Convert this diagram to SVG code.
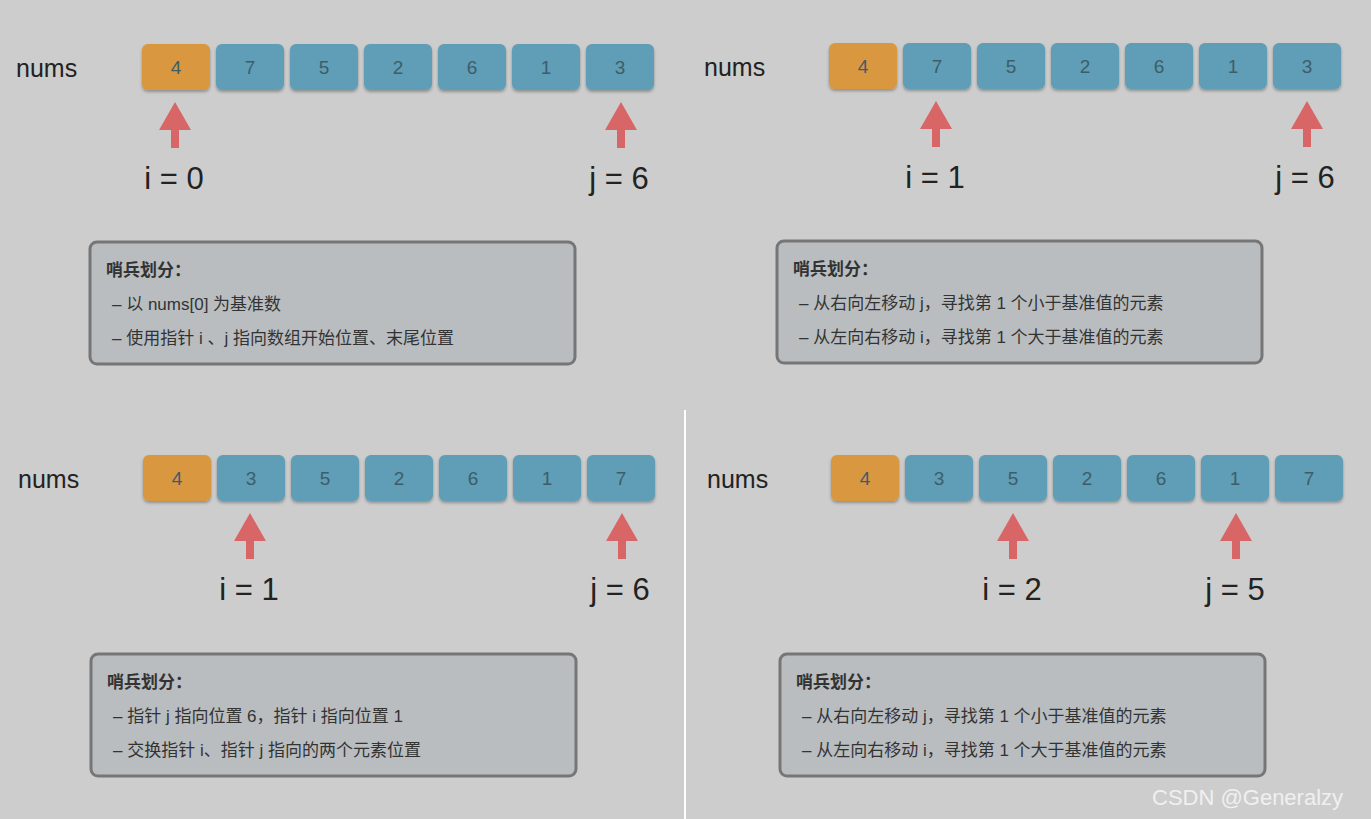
<svg xmlns="http://www.w3.org/2000/svg" width="1371" height="819" viewBox="0 0 1371 819">
<defs>
<filter id="sh" x="-10%" y="-10%" width="120%" height="130%"><feDropShadow dx="0" dy="2" stdDeviation="1.5" flood-color="#000" flood-opacity="0.3"/></filter>
<g id="arrow"><polygon points="0,0 -16,28 -4,28 -4,46 4,46 4,28 16,28" fill="#d96666"/></g>
</defs>
<style>
text{font-family:"Liberation Sans","Noto Sans CJK SC",sans-serif}
.c{fill:#609db6;filter:url(#sh)}
.o{fill:#d9973f;filter:url(#sh)}
.v{font-size:19px;fill:#3d5d6b;text-anchor:middle}
.n{font-size:25px;fill:#222}
.l{font-size:31px;fill:#222;text-anchor:middle}
.b{fill:#b9bdc0;stroke:#767676;stroke-width:3}
.h{font-size:17px;font-weight:bold;fill:#333}
.t{font-size:17px;fill:#333}
</style>
<rect width="1371" height="819" fill="#cdcdcd"/>
<line x1="685" y1="410" x2="685" y2="819" stroke="#fff" stroke-width="2"/>

<g id="panel1">
<text class="n" x="16" y="77">nums</text>
<rect class="o" x="142" y="44" width="68" height="46" rx="6"/><text class="v" x="176" y="74">4</text>
<rect class="c" x="216" y="44" width="68" height="46" rx="6"/><text class="v" x="250" y="74">7</text>
<rect class="c" x="290" y="44" width="68" height="46" rx="6"/><text class="v" x="324" y="74">5</text>
<rect class="c" x="364" y="44" width="68" height="46" rx="6"/><text class="v" x="398" y="74">2</text>
<rect class="c" x="438" y="44" width="68" height="46" rx="6"/><text class="v" x="472" y="74">6</text>
<rect class="c" x="512" y="44" width="68" height="46" rx="6"/><text class="v" x="546" y="74">1</text>
<rect class="c" x="586" y="44" width="68" height="46" rx="6"/><text class="v" x="620" y="74">3</text>
<use href="#arrow" x="175" y="102"/><use href="#arrow" x="621" y="102"/>
<text class="l" x="174" y="189">i = 0</text><text class="l" x="619" y="189">j = 6</text>
<rect class="b" x="90" y="242" width="485" height="122" rx="7"/>
<text class="h" x="106" y="276">哨兵划分：</text>
<text class="t" x="112" y="310">– 以 nums[0] 为基准数</text>
<text class="t" x="112" y="344">– 使用指针 i 、j 指向数组开始位置、末尾位置</text>
</g>

<g id="panel2">
<text class="n" x="704" y="76">nums</text>
<rect class="o" x="829" y="43" width="68" height="46" rx="6"/><text class="v" x="863" y="73">4</text>
<rect class="c" x="903" y="43" width="68" height="46" rx="6"/><text class="v" x="937" y="73">7</text>
<rect class="c" x="977" y="43" width="68" height="46" rx="6"/><text class="v" x="1011" y="73">5</text>
<rect class="c" x="1051" y="43" width="68" height="46" rx="6"/><text class="v" x="1085" y="73">2</text>
<rect class="c" x="1125" y="43" width="68" height="46" rx="6"/><text class="v" x="1159" y="73">6</text>
<rect class="c" x="1199" y="43" width="68" height="46" rx="6"/><text class="v" x="1233" y="73">1</text>
<rect class="c" x="1273" y="43" width="68" height="46" rx="6"/><text class="v" x="1307" y="73">3</text>
<use href="#arrow" x="936" y="101"/><use href="#arrow" x="1307" y="101"/>
<text class="l" x="935" y="188">i = 1</text><text class="l" x="1305" y="188">j = 6</text>
<rect class="b" x="777" y="241" width="485" height="122" rx="7"/>
<text class="h" x="793" y="275">哨兵划分：</text>
<text class="t" x="799" y="309">– 从右向左移动 j，寻找第 1 个小于基准值的元素</text>
<text class="t" x="799" y="343">– 从左向右移动 i，寻找第 1 个大于基准值的元素</text>
</g>

<g id="panel3">
<text class="n" x="18" y="488">nums</text>
<rect class="o" x="143" y="455" width="68" height="46" rx="6"/><text class="v" x="177" y="485">4</text>
<rect class="c" x="217" y="455" width="68" height="46" rx="6"/><text class="v" x="251" y="485">3</text>
<rect class="c" x="291" y="455" width="68" height="46" rx="6"/><text class="v" x="325" y="485">5</text>
<rect class="c" x="365" y="455" width="68" height="46" rx="6"/><text class="v" x="399" y="485">2</text>
<rect class="c" x="439" y="455" width="68" height="46" rx="6"/><text class="v" x="473" y="485">6</text>
<rect class="c" x="513" y="455" width="68" height="46" rx="6"/><text class="v" x="547" y="485">1</text>
<rect class="c" x="587" y="455" width="68" height="46" rx="6"/><text class="v" x="621" y="485">7</text>
<use href="#arrow" x="250" y="513"/><use href="#arrow" x="622" y="513"/>
<text class="l" x="249" y="600">i = 1</text><text class="l" x="620" y="600">j = 6</text>
<rect class="b" x="91" y="654" width="485" height="122" rx="7"/>
<text class="h" x="107" y="688">哨兵划分：</text>
<text class="t" x="113" y="722">– 指针 j 指向位置 6，指针 i 指向位置 1</text>
<text class="t" x="113" y="756">– 交换指针 i、指针 j 指向的两个元素位置</text>
</g>

<g id="panel4">
<text class="n" x="707" y="488">nums</text>
<rect class="o" x="831" y="455" width="68" height="46" rx="6"/><text class="v" x="865" y="485">4</text>
<rect class="c" x="905" y="455" width="68" height="46" rx="6"/><text class="v" x="939" y="485">3</text>
<rect class="c" x="979" y="455" width="68" height="46" rx="6"/><text class="v" x="1013" y="485">5</text>
<rect class="c" x="1053" y="455" width="68" height="46" rx="6"/><text class="v" x="1087" y="485">2</text>
<rect class="c" x="1127" y="455" width="68" height="46" rx="6"/><text class="v" x="1161" y="485">6</text>
<rect class="c" x="1201" y="455" width="68" height="46" rx="6"/><text class="v" x="1235" y="485">1</text>
<rect class="c" x="1275" y="455" width="68" height="46" rx="6"/><text class="v" x="1309" y="485">7</text>
<use href="#arrow" x="1013" y="513"/><use href="#arrow" x="1236" y="513"/>
<text class="l" x="1012" y="600">i = 2</text><text class="l" x="1235" y="600">j = 5</text>
<rect class="b" x="780" y="654" width="485" height="122" rx="7"/>
<text class="h" x="796" y="688">哨兵划分：</text>
<text class="t" x="802" y="722">– 从右向左移动 j，寻找第 1 个小于基准值的元素</text>
<text class="t" x="802" y="756">– 从左向右移动 i，寻找第 1 个大于基准值的元素</text>
</g>
<text x="1152" y="805" font-size="22" fill="#f0f0f0" style="font-family:'Liberation Sans',sans-serif">CSDN @Generalzy</text>
</svg>
